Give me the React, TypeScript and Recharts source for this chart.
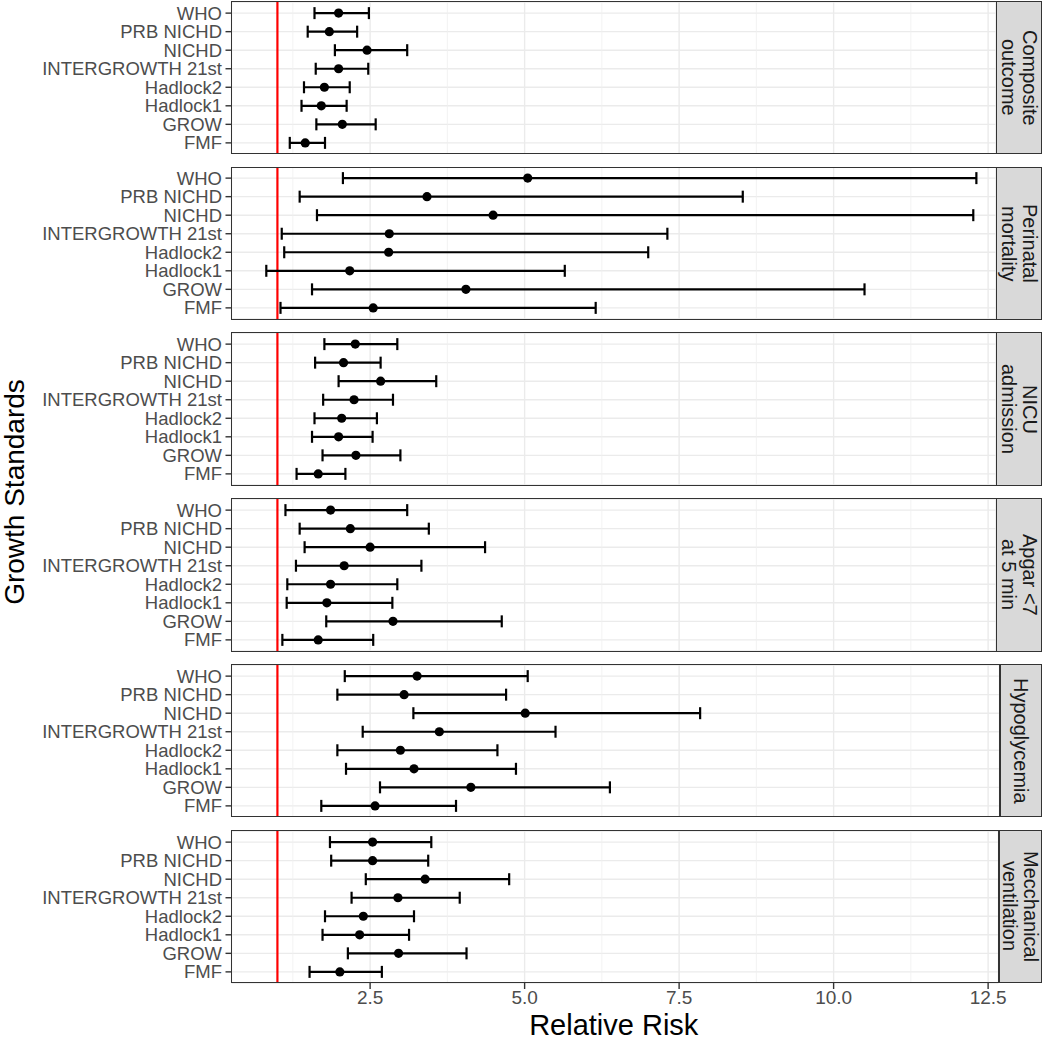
import {
  ScatterChart,
  Scatter,
  XAxis,
  YAxis,
  CartesianGrid,
  ReferenceLine,
  ErrorBar,
} from "recharts";

// Growth standards, top to bottom in every panel
const growthStandards = [
  "WHO",
  "PRB NICHD",
  "NICHD",
  "INTERGROWTH 21st",
  "Hadlock2",
  "Hadlock1",
  "GROW",
  "FMF",
];

const outcomes = [
  "Composite\noutcome",
  "Perinatal\nmortality",
  "NICU\nadmission",
  "Apgar <7\nat 5 min",
  "Hypoglycemia",
  "Mecchanical\nventilation",
];

// relative risk + 95% CI, same order as growthStandards
const compositeRR = [1.99, 1.84, 2.45, 1.99, 1.76, 1.71, 2.05, 1.45];
const compositeLow = [1.6, 1.49, 1.93, 1.62, 1.43, 1.39, 1.63, 1.2];
const compositeHigh = [2.48, 2.29, 3.1, 2.47, 2.17, 2.12, 2.59, 1.77];

const perinatalRR = [5.05, 3.42, 4.49, 2.81, 2.8, 2.17, 4.05, 2.55];
const perinatalLow = [2.06, 1.36, 1.64, 1.07, 1.11, 0.82, 1.56, 1.05];
const perinatalHigh = [12.31, 8.53, 12.26, 7.31, 7.0, 5.65, 10.5, 6.15];

const nicuRR = [2.26, 2.07, 2.67, 2.24, 2.04, 1.99, 2.27, 1.66];
const nicuLow = [1.76, 1.61, 1.99, 1.74, 1.6, 1.56, 1.73, 1.31];
const nicuHigh = [2.94, 2.67, 3.57, 2.87, 2.61, 2.54, 2.99, 2.1];

const apgarRR = [1.86, 2.18, 2.5, 2.08, 1.86, 1.8, 2.87, 1.66];
const apgarLow = [1.13, 1.36, 1.44, 1.3, 1.16, 1.15, 1.79, 1.08];
const apgarHigh = [3.1, 3.45, 4.36, 3.33, 2.94, 2.86, 4.63, 2.55];

const hypoRR = [3.26, 3.05, 5.01, 3.62, 2.99, 3.21, 4.13, 2.58];
const hypoLow = [2.09, 1.97, 3.2, 2.38, 1.97, 2.11, 2.66, 1.71];
const hypoHigh = [5.05, 4.7, 7.84, 5.5, 4.56, 4.86, 6.38, 3.89];

const ventRR = [2.54, 2.54, 3.39, 2.95, 2.39, 2.33, 2.96, 2.01];
const ventLow = [1.85, 1.87, 2.43, 2.2, 1.77, 1.73, 2.14, 1.52];
const ventHigh = [3.49, 3.44, 4.75, 3.95, 3.21, 3.13, 4.06, 2.69];

const xTicks = [2.5, 5, 7.5, 10, 12.5];
const xMinorTicks = [1.25, 3.75, 6.25, 8.75, 11.25];
const referenceRR = 1;

// layout
const FONT = '"Liberation Sans", Arial, Helvetica, sans-serif';
const PLOT_LEFT = 231.5;
const PANEL_H = 152;
const PANEL_STEP = 165.8;
const FIRST_TOP = 1.5;
const STRIP_RIGHT = 1041.5;
const PX_PER_UNIT = 61.8;
const X_MIN = 0.257;
const EXTRA_RIGHT = 30; // room so the last tick label is not clipped
const plotRights = [996, 996, 996, 996, 999.5, 998.5];

const panels = [
  [compositeRR, compositeLow, compositeHigh],
  [perinatalRR, perinatalLow, perinatalHigh],
  [nicuRR, nicuLow, nicuHigh],
  [apgarRR, apgarLow, apgarHigh],
  [hypoRR, hypoLow, hypoHigh],
  [ventRR, ventLow, ventHigh],
];

const buildRows = (rr: number[], lo: number[], hi: number[]) =>
  growthStandards.map((name, i) => ({
    name,
    y: growthStandards.length - i,
    rr: rr[i],
    err: [rr[i] - lo[i], hi[i] - rr[i]],
  }));

const Dot = (props: any) => (
  <circle cx={props.cx} cy={props.cy} r={4.6} fill="#000" />
);

const Panel = ({ idx }: { idx: number }) => {
  const [rr, lo, hi] = panels[idx];
  const data = buildRows(rr, lo, hi);
  const isLast = idx === panels.length - 1;
  const top = FIRST_TOP + idx * PANEL_STEP;
  const right = plotRights[idx];
  const xMax = X_MIN + (right - PLOT_LEFT) / PX_PER_UNIT;
  const n = growthStandards.length;

  return (
    <>
      <div style={{ position: "absolute", left: 0, top }}>
        <ScatterChart
          width={right + EXTRA_RIGHT}
          height={PANEL_H + (isLast ? 36 : 0)}
          margin={{ top: 0, right: EXTRA_RIGHT, bottom: 0, left: 0 }}
        >
          <CartesianGrid stroke="#EBEBEB" strokeWidth={1.4} />
          {xMinorTicks.map((v) => (
            <ReferenceLine key={v} x={v} stroke="#F0F0F0" strokeWidth={0.8} />
          ))}
          <XAxis
            type="number"
            dataKey="rr"
            domain={[X_MIN, xMax]}
            allowDataOverflow
            ticks={xTicks}
            hide={!isLast}
            height={36}
            tickFormatter={(v: number) => v.toFixed(1)}
            axisLine={false}
            tickLine={{ stroke: "#333", strokeWidth: 1.4 }}
            tickSize={6}
            tickMargin={2}
            tick={{ fill: "#4D4D4D", fontSize: 19, fontFamily: FONT }}
          />
          <YAxis
            type="number"
            dataKey="y"
            domain={[0.4, n + 0.6]}
            allowDataOverflow
            ticks={growthStandards.map((_, i) => n - i)}
            interval={0}
            width={PLOT_LEFT}
            tickFormatter={(v: number) => growthStandards[n - v]}
            axisLine={false}
            tickLine={{ stroke: "#333", strokeWidth: 1.4 }}
            tickSize={6}
            tickMargin={3.5}
            tick={{ fill: "#4D4D4D", fontSize: 18.5, fontFamily: FONT }}
          />
          <ReferenceLine x={referenceRR} stroke="#FF0000" strokeWidth={2.2} />
          <Scatter data={data} shape={Dot} isAnimationActive={false}>
            <ErrorBar
              dataKey="err"
              direction="x"
              width={6}
              stroke="#000"
              strokeWidth={2.2}
              isAnimationActive={false}
            />
          </Scatter>
        </ScatterChart>
      </div>
      {/* panel frame */}
      <div
        style={{
          position: "absolute",
          left: PLOT_LEFT - 0.75,
          top: top - 0.75,
          width: right - PLOT_LEFT + 1.5,
          height: PANEL_H + 1.5,
          border: "1.5px solid #333",
          boxSizing: "border-box",
          pointerEvents: "none",
        }}
      />
      {/* facet strip */}
      <div
        style={{
          position: "absolute",
          left: right,
          top: top - 0.75,
          width: STRIP_RIGHT - right,
          height: PANEL_H + 1.5,
          background: "#D9D9D9",
          border: "1.5px solid #333",
          boxSizing: "border-box",
          display: "flex",
          alignItems: "center",
          justifyContent: "center",
        }}
      >
        <div
          style={{
            writingMode: "vertical-rl",
            whiteSpace: "pre",
            textAlign: "center",
            fontFamily: FONT,
            fontSize: 20,
            lineHeight: "21px",
            color: "#1A1A1A",
          }}
        >
          {outcomes[idx]}
        </div>
      </div>
    </>
  );
};

export default function App() {
  return (
    <div
      style={{
        position: "absolute",
        left: 0,
        top: 0,
        width: 1050,
        height: 1042,
        background: "#fff",
        fontFamily: FONT,
        overflow: "hidden",
      }}
    >
      {panels.map((_, i) => (
        <Panel key={i} idx={i} />
      ))}
      <div
        style={{
          position: "absolute",
          left: 15 - 150,
          top: 492 - 16,
          width: 300,
          height: 32,
          lineHeight: "32px",
          textAlign: "center",
          transform: "rotate(-90deg)",
          fontSize: 28,
          color: "#000",
        }}
      >
        Growth Standards
      </div>
      <div
        style={{
          position: "absolute",
          left: PLOT_LEFT,
          width: 996 - PLOT_LEFT,
          top: 1009,
          lineHeight: "32px",
          textAlign: "center",
          fontSize: 29,
          color: "#000",
        }}
      >
        Relative Risk
      </div>
    </div>
  );
}
